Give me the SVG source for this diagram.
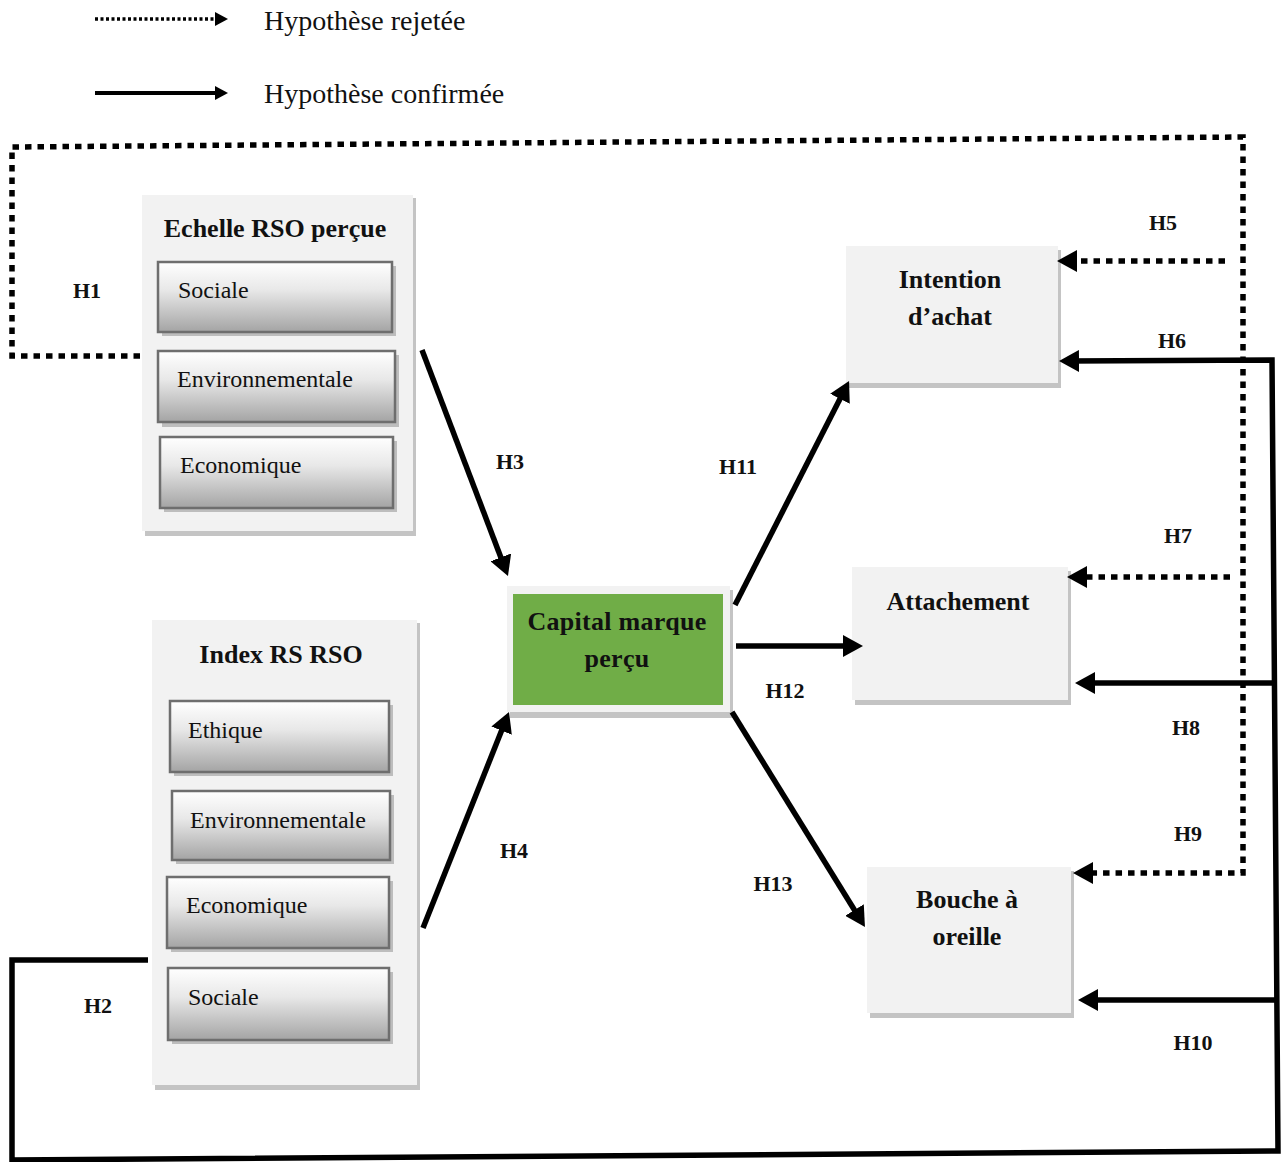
<svg xmlns="http://www.w3.org/2000/svg" width="1286" height="1162" viewBox="0 0 1286 1162">
<style>
.bg{fill:#f2f2f2}
.sh{fill:#c4c4c4}
.inner{fill:url(#grad);stroke:#6e6e6e;stroke-width:2.5}
.ish{fill:#bdbdbd}
.t{font-family:"Liberation Serif","Times New Roman",serif;fill:#111}
.title{font-size:26px;font-weight:bold;text-anchor:middle}
.item{font-size:24px}
.lab{font-size:22px;font-weight:bold;text-anchor:middle}
.leg{font-size:28px}
.solid{fill:none;stroke:#000;stroke-width:5.5}
.dot{fill:none;stroke:#000;stroke-width:5.5;stroke-dasharray:6.5 6}
</style>
<defs>
<linearGradient id="grad" x1="0" y1="0" x2="0" y2="1">
<stop offset="0" stop-color="#ffffff"/>
<stop offset="0.4" stop-color="#e8e8e8"/>
<stop offset="1" stop-color="#a4a4a4"/>
</linearGradient>
<marker id="ah" markerUnits="userSpaceOnUse" markerWidth="20" markerHeight="22" refX="10" refY="11" orient="auto">
<path d="M0,0 L20,11 L0,22 z" fill="#000"/>
</marker>
<marker id="ahs" markerUnits="userSpaceOnUse" markerWidth="13" markerHeight="14" refX="4" refY="7" orient="auto">
<path d="M0,0 L13,7 L0,14 z" fill="#000"/>
</marker>
</defs>
<rect width="1286" height="1162" fill="#fff"/>

<g id="legend">
<line x1="95" y1="19" x2="219" y2="19" stroke="#000" stroke-width="3.5" stroke-dasharray="3 2.5" marker-end="url(#ahs)"/>
<text class="t leg" x="264" y="30">Hypothèse rejetée</text>
<line x1="95" y1="93" x2="219" y2="93" stroke="#000" stroke-width="4" marker-end="url(#ahs)"/>
<text class="t leg" x="264" y="103">Hypothèse confirmée</text>
</g>

<g id="echelle">
<rect class="sh" x="145" y="198" width="271" height="338"/>
<rect class="bg" x="142" y="195" width="271" height="336"/>
<text class="t title" x="275" y="237">Echelle RSO perçue</text>
<rect class="ish" x="162" y="266" width="234" height="70"/>
<rect class="inner" x="158" y="262" width="234" height="70"/>
<text class="t item" x="178" y="298">Sociale</text>
<rect class="ish" x="162" y="355" width="237" height="72"/>
<rect class="inner" x="158" y="351" width="237" height="71"/>
<text class="t item" x="177" y="387">Environnementale</text>
<rect class="ish" x="164" y="441" width="233" height="71"/>
<rect class="inner" x="160" y="437" width="233" height="71"/>
<text class="t item" x="180" y="473">Economique</text>
</g>

<g id="index">
<rect class="sh" x="155" y="623" width="265" height="467"/>
<rect class="bg" x="152" y="620" width="265" height="465"/>
<text class="t title" x="281" y="663">Index RS RSO</text>
<rect class="ish" x="174" y="705" width="219" height="71"/>
<rect class="inner" x="170" y="701" width="219" height="71"/>
<text class="t item" x="188" y="738">Ethique</text>
<rect class="ish" x="176" y="795" width="218" height="69"/>
<rect class="inner" x="172" y="791" width="218" height="69"/>
<text class="t item" x="190" y="828">Environnementale</text>
<rect class="ish" x="171" y="881" width="222" height="71"/>
<rect class="inner" x="167" y="877" width="222" height="71"/>
<text class="t item" x="186" y="913">Economique</text>
<rect class="ish" x="172" y="972" width="221" height="72"/>
<rect class="inner" x="168" y="968" width="221" height="72"/>
<text class="t item" x="188" y="1005">Sociale</text>
</g>

<g id="capital">
<rect class="sh" x="510" y="590" width="223" height="128"/>
<rect class="bg" x="507" y="586" width="223" height="126"/>
<rect x="513" y="594" width="210" height="111" fill="#70ad47"/>
<text class="t title" x="617" y="630" letter-spacing="0.3">Capital marque</text>
<text class="t title" x="617" y="667" letter-spacing="0.3">perçu</text>
</g>

<g id="intention">
<rect class="sh" x="849" y="250" width="212" height="138"/>
<rect class="bg" x="846" y="246" width="212" height="137"/>
<text class="t title" x="950" y="288">Intention</text>
<text class="t title" x="950" y="325">d’achat</text>
</g>

<g id="attachement">
<rect class="sh" x="855" y="571" width="216" height="134"/>
<rect class="bg" x="852" y="567" width="216" height="133"/>
<text class="t title" x="958" y="610">Attachement</text>
</g>

<g id="bouche">
<rect class="sh" x="870" y="871" width="204" height="147"/>
<rect class="bg" x="867" y="867" width="204" height="146"/>
<text class="t title" x="967" y="908">Bouche à</text>
<text class="t title" x="967" y="945">oreille</text>
</g>

<g id="connectors">
<path class="dot" d="M140,356 L12,356 L12,147 L1243,137 L1243,873 L1083,873" marker-end="url(#ah)"/>
<line class="dot" x1="1225" y1="261" x2="1067" y2="261" marker-end="url(#ah)"/>
<line class="dot" x1="1230" y1="577" x2="1077" y2="577" marker-end="url(#ah)"/>
<path class="solid" d="M148,960 L12,960 L12,1160 L1278,1151 L1272,360 L1069,361" marker-end="url(#ah)"/>
<line class="solid" x1="1274" y1="683" x2="1085" y2="683" marker-end="url(#ah)"/>
<line class="solid" x1="1276" y1="1000" x2="1088" y2="1000" marker-end="url(#ah)"/>
<line class="solid" x1="422" y1="350" x2="504.4" y2="566.7" marker-end="url(#ah)"/>
<line class="solid" x1="423" y1="928" x2="505.3" y2="721.3" marker-end="url(#ah)"/>
<line class="solid" x1="735" y1="605" x2="844.5" y2="389.9" marker-end="url(#ah)"/>
<line class="solid" x1="736" y1="646" x2="853" y2="646" marker-end="url(#ah)"/>
<line class="solid" x1="732" y1="712" x2="859.7" y2="918.5" marker-end="url(#ah)"/>
</g>

<g id="labels">
<text class="t lab" x="87" y="298">H1</text>
<text class="t lab" x="98" y="1013">H2</text>
<text class="t lab" x="510" y="469">H3</text>
<text class="t lab" x="514" y="858">H4</text>
<text class="t lab" x="1163" y="230">H5</text>
<text class="t lab" x="1172" y="348">H6</text>
<text class="t lab" x="1178" y="543">H7</text>
<text class="t lab" x="1186" y="735">H8</text>
<text class="t lab" x="1188" y="841">H9</text>
<text class="t lab" x="1193" y="1050">H10</text>
<text class="t lab" x="738" y="474">H11</text>
<text class="t lab" x="785" y="698">H12</text>
<text class="t lab" x="773" y="891">H13</text>
</g>
</svg>
